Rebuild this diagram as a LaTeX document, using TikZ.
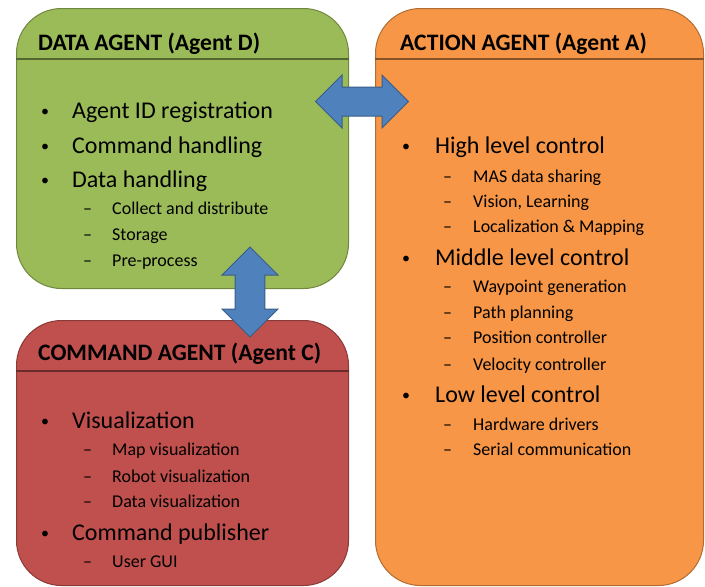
\documentclass[tikz,border=0pt]{standalone}
\usepackage{fontspec}
\setmainfont{Carlito}
\usetikzlibrary{calc,shapes.arrows}
\definecolor{agentgreen}{HTML}{9BBB59}
\definecolor{agentorange}{HTML}{F79646}
\definecolor{agentred}{HTML}{C0504D}
\definecolor{arrowblue}{HTML}{4F81BD}
\tikzset{
  agentbox/.style={draw=#1!72!black, fill=#1, rounded corners=45, anchor=north west, inner sep=0, line width=1},
  headline/.style={draw=#1!55!black, line width=1.5},
  agenttitle/.style={anchor=base west, inner sep=0, font=\fontsize{23.6}{26}\selectfont\bfseries},
  topitem/.style={anchor=base west, inner sep=0, font=\fontsize{24}{28}\selectfont},
  subitem/.style={anchor=base west, inner sep=0, font=\fontsize{18}{21}\selectfont},
  linkarrow/.style={double arrow, draw=arrowblue!72!black, fill=arrowblue, line width=1, inner xsep=0, inner ysep=#1, double arrow head extend=12}
}
\newcommand{\bul}[2][31pt]{\makebox[#1][l]{\raisebox{1.5pt}{\fontsize{16}{16}\selectfont •}}#2}
\newcommand{\sub}[2][29pt]{\makebox[#1][l]{–}#2}
\begin{document}
\begin{tikzpicture}[x=1pt,y=-1pt]
			\useasboundingbox (0,0) rectangle (705,587);
			
			%%%%% boxes %%%%%
			\node[agentbox=agentgreen, minimum width=332, minimum height=280] (data) at (16,8) {};
			\node[agentbox=agentorange, minimum width=328, minimum height=577] (action) at (375,8) {};
			\node[agentbox=agentred, minimum width=332, minimum height=265] (command) at (16,320) {};
			
			\draw[headline=agentgreen] ([yshift=-51]data.north west) -- ([yshift=-51]data.north east);
			\draw[headline=agentorange] ([yshift=-51]action.north west) -- ([yshift=-51]action.north east);
			\draw[headline=agentred] ([yshift=-51]command.north west) -- ([yshift=-51]command.north east);
			
			%%%%% data agent %%%%%
			\node[agenttitle] (dtitle) at (38,50) {DATA AGENT (Agent D)};
			\node[topitem] (d1) at (41,118) {\bul{Agent ID registration}};
			\node[topitem] (d2) at (41,153) {\bul{Command handling}};
			\node[topitem] (d3) at (41,187) {\bul{Data handling}};
			\node[subitem] (d4) at (83,214) {\sub{Collect and distribute}};
			\node[subitem] (d5) at (83,240) {\sub{Storage}};
			\node[subitem] (d6) at (83,266) {\sub{Pre-process}};
			
			%%%%% action agent %%%%%
			\node[agenttitle] (atitle) at (400,50) {ACTION AGENT (Agent A)};
			\node[topitem] (a1) at (402,153) {\bul[33pt]{High level control}};
			\node[subitem] (a2) at (443,182) {\sub[30pt]{MAS data sharing}};
			\node[subitem] (a3) at (443,207) {\sub[30pt]{Vision, Learning}};
			\node[subitem] (a4) at (443,232) {\sub[30pt]{Localization \& Mapping}};
			\node[topitem] (a5) at (402,265) {\bul[33pt]{Middle level control}};
			\node[subitem] (a6) at (443,292) {\sub[30pt]{Waypoint generation}};
			\node[subitem] (a7) at (443,318) {\sub[30pt]{Path planning}};
			\node[subitem] (a8) at (443,343) {\sub[30pt]{Position controller}};
			\node[subitem] (a9) at (443,370) {\sub[30pt]{Velocity controller}};
			\node[topitem] (a10) at (402,402) {\bul[33pt]{Low level control}};
			\node[subitem] (a11) at (443,430) {\sub[30pt]{Hardware drivers}};
			\node[subitem] (a12) at (443,455) {\sub[30pt]{Serial communication}};
			
			%%%%% command agent %%%%%
			\node[agenttitle] (ctitle) at (38,360) {COMMAND AGENT (Agent C)};
			\node[topitem] (c1) at (41,428) {\bul{Visualization}};
			\node[subitem] (c2) at (83,455) {\sub{Map visualization}};
			\node[subitem] (c3) at (83,482) {\sub{Robot visualization}};
			\node[subitem] (c4) at (83,507) {\sub{Data visualization}};
			\node[topitem] (c5) at (41,540) {\bul{Command publisher}};
			\node[subitem] (c6) at (83,567) {\sub{User GUI}};
			
			%%%%% links %%%%%
			\node[linkarrow=14, minimum height=93, minimum width=53] (dalink) at ($(data.north east)!0.5!(action.north west) + (0,93.5)$) {};
			\node[linkarrow=13, minimum height=90, minimum width=56, rotate=90] (dclink) at (250,292) {};
			
		\end{tikzpicture}
\end{document}
